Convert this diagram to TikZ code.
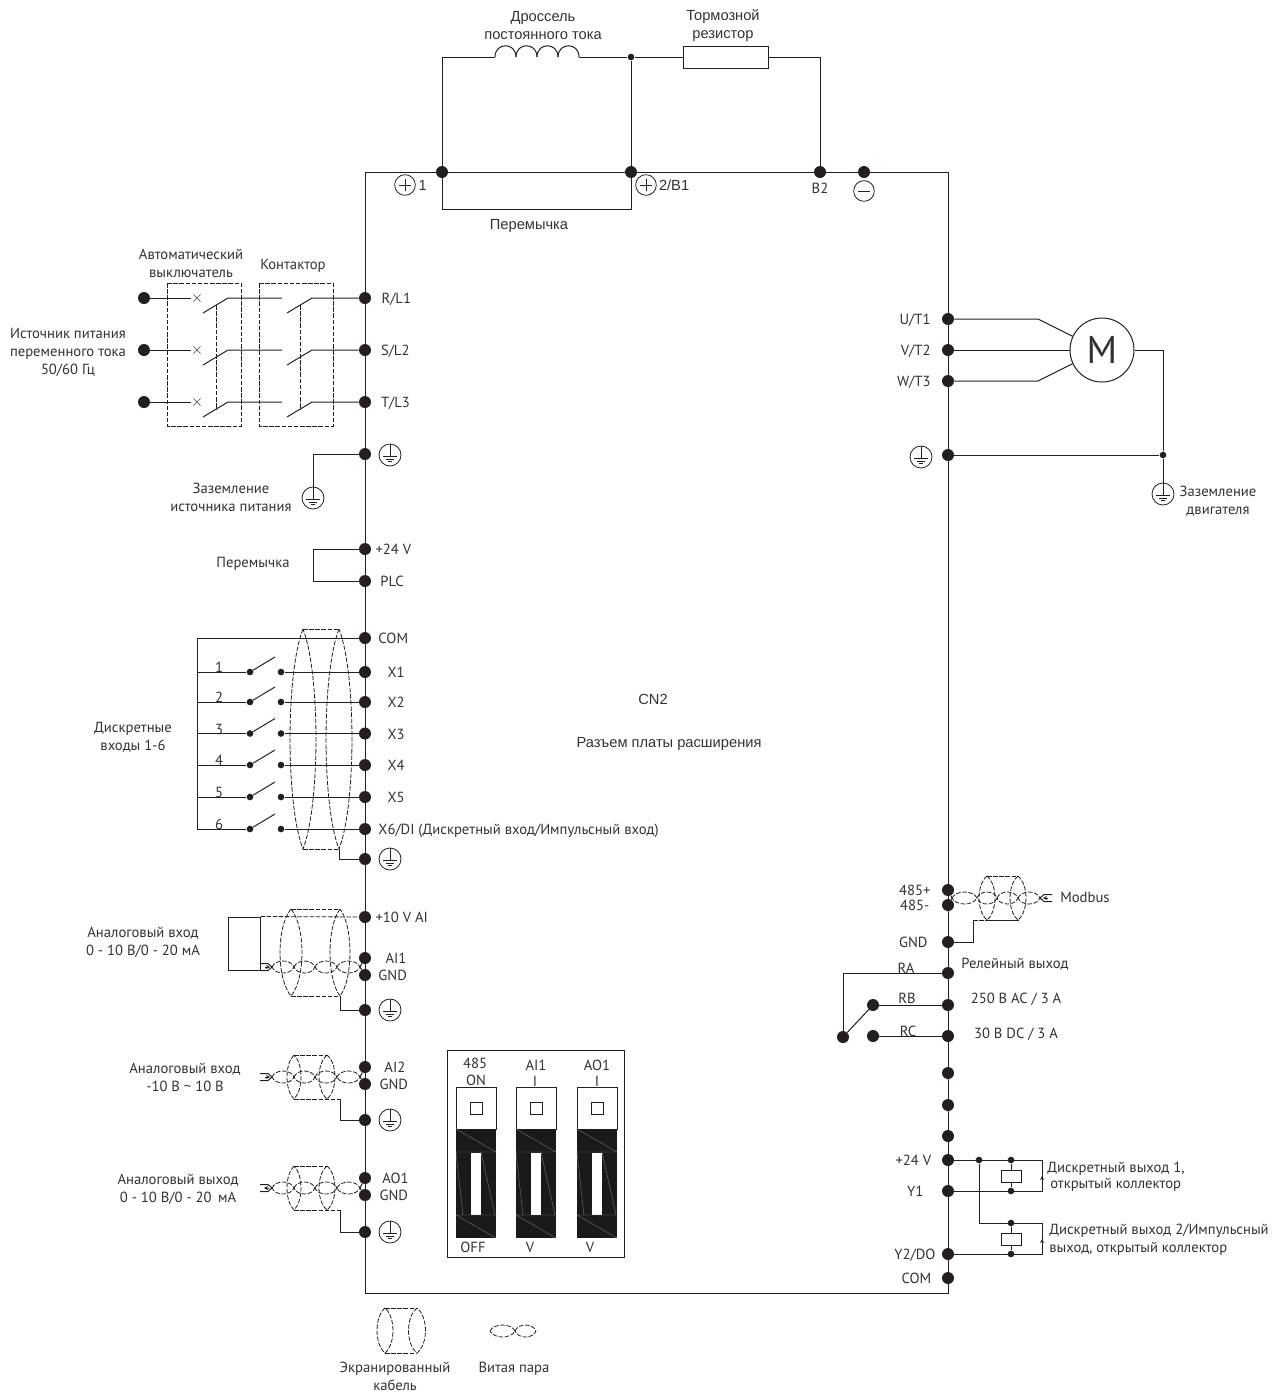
\documentclass[tikz,border=0pt]{standalone}
\usepackage{fontspec}
\setmainfont{PT Sans}
\newfontfamily\arialfont{Liberation Sans}
\usepackage{xcolor}
\usetikzlibrary{positioning,arrows.meta,calc}
\definecolor{inkcolor}{RGB}{35,31,32}
\definecolor{textcolor}{RGB}{50,50,50}

% screened cable: x left, x right, half width left, half width right, top, bottom
\newcommand{\shieldcable}[6]{%
  \foreach \cx/\cr in {#1/#3,#2/#4}
    \draw[shield] (\cx,#5) .. controls ({\cx-1.33*\cr},{#5+0.2*(#6-#5)}) and ({\cx-1.33*\cr},{#6-0.2*(#6-#5)}) .. (\cx,#6)
      .. controls ({\cx+1.33*\cr},{#6-0.2*(#6-#5)}) and ({\cx+1.33*\cr},{#5+0.2*(#6-#5)}) .. (\cx,#5);
  \draw[shield] (#1,#5) -- (#2,#5);
  \draw[shield] (#1,#6) -- (#2,#6);
}
% twisted pair: list of crossing pairs, y
\newcommand{\twistpair}[2]{%
  \foreach \ta/\tb in {#1}
    \draw[shield] (\ta,#2) .. controls ({\ta+0.15*(\tb-\ta)},#2-8) and ({\tb-0.15*(\tb-\ta)},#2-8) .. (\tb,#2)
      .. controls ({\tb-0.15*(\tb-\ta)},#2+8) and ({\ta+0.15*(\tb-\ta)},#2+8) .. (\ta,#2);
}
% tail of a pair: crossing x, y, side (-1 left, 1 right), arrow from, arrow to
\newcommand{\pairtail}[5]{%
  \draw[wire] ({#1+#3*12},#2-3.5) -- ({#1+#3*4},#2-3.5) -- (#1,#2) -- ({#1+#3*4},#2+3.5) -- ({#1+#3*12},#2+3.5);
  \draw[wiretip] ({#1+#3*#4},#2) -- ({#1+#3*#5},#2);
}

\begin{document}
\begin{tikzpicture}[
  x=0.75pt, y=-0.75pt,
  font=\fontsize{11}{13.5}\selectfont,
  every node/.style={text=textcolor},
  wire/.style={draw=inkcolor, line width=0.75pt},
  shield/.style={draw=inkcolor, line width=0.6pt, dash pattern=on 3.4pt off 1.2pt},
  wiretip/.style={draw=inkcolor, line width=0.5pt, -{Stealth[length=3pt,width=3pt]}},
  term/.style={circle, fill=inkcolor, inner sep=0pt, minimum size=9pt},
  joint/.style={circle, fill=inkcolor, inner sep=0pt, minimum size=5pt},
  lbl/.style={inner sep=0pt, text height=8.7pt, text depth=0pt},
  captxt/.style={inner sep=0pt, align=center},
  captxtsf/.style={inner sep=0pt, align=center, font=\arialfont\fontsize{11}{13.5}\selectfont},
  comp/.style={rectangle, draw=inkcolor, line width=0.75pt, inner sep=0pt},
  dashbox/.style={draw=inkcolor, line width=0.6pt, dash pattern=on 3.4pt off 1.2pt},
  earthsym/.style={circle, draw=inkcolor, line width=0.6pt, inner sep=0pt, minimum size=16.5pt,
    path picture={
      \draw[inkcolor, line width=0.6pt] (path picture bounding box.north) -- ([yshift=-1.2pt]path picture bounding box.center);
      \draw[inkcolor, line width=0.6pt] ([xshift=-4.9pt,yshift=-1.2pt]path picture bounding box.center) -- ([xshift=4.9pt,yshift=-1.2pt]path picture bounding box.center);
      \draw[inkcolor, line width=0.6pt] ([xshift=-3pt,yshift=-3pt]path picture bounding box.center) -- ([xshift=3pt,yshift=-3pt]path picture bounding box.center);
      \draw[inkcolor, line width=0.6pt] ([xshift=-1.2pt,yshift=-4.6pt]path picture bounding box.center) -- ([xshift=1.2pt,yshift=-4.6pt]path picture bounding box.center);
    }},
  minussym/.style={circle, draw=inkcolor, line width=0.6pt, inner sep=0pt, minimum size=15.5pt,
    path picture={
      \draw[inkcolor, line width=0.6pt] ([xshift=-4.5pt]path picture bounding box.center) -- ([xshift=4.5pt]path picture bounding box.center);
    }},
  plussym/.style={circle, draw=inkcolor, line width=0.6pt, inner sep=0pt, minimum size=15.5pt,
    path picture={
      \draw[inkcolor, line width=0.6pt] ([xshift=-4.5pt]path picture bounding box.center) -- ([xshift=4.5pt]path picture bounding box.center);
      \draw[inkcolor, line width=0.6pt] ([yshift=-4.5pt]path picture bounding box.center) -- ([yshift=4.5pt]path picture bounding box.center);
    }}
]
  \useasboundingbox (0,0) rectangle (1285,1397);

  % Frame
  \coordinate (frameTL) at (365,172);
  \coordinate (frameTR) at (948,172);
  \coordinate (frameBL) at (365,1293);
  \coordinate (frameBR) at (948,1293);
  \draw[wire] (frameTL) -- (frameTR) -- (frameBR) -- (frameBL) -- cycle;

  % Terminals
  \foreach \nm/\yy in {rl/298,sl/350,tl/402,peA/454,ptf/549,plc/581,comL/638,x1/672,x2/702,x3/733.5,x4/765,x5/797,x6/829,peB/859,ten/917,aia/958,gnda/975,peC/1010,aib/1067,gndb/1084,peD/1120,aoa/1178,gndc/1195,peE/1232}
    \node[term] (\nm) at (365,\yy) {};
  \foreach \nm/\yy in {ut/319,vt/350,wt/381,peR/455,rsp/890,rsm/905,gndr/942,ra/973,rb/1005,rc/1036,spA/1073,spB/1105,spC/1136,ptfR/1160,yo/1191,yt/1254,comR/1278}
    \node[term] (\nm) at (948,\yy) {};
  \foreach \nm/\xx in {pA/442,pB/631,pC/820,pD/864}
    \node[term] (\nm) at (\xx,172) {};

  % Terminal labels
  \foreach \nm/\gap/\txt in {rl/7.5/{R/L1},sl/7.1/{S/L2},tl/7.1/{T/L3},ptf/3/{+24 V},plc/6.7/PLC,comL/5.2/COM,x1/12/X1,x2/12/X2,x3/12/X3,x4/12/X4,x5/12/X5,x6/5.2/{X6/DI (Дискретный вход/Импульсный вход)},ten/3/{+10 V AI},aia/10.5/AI1,gnda/5.2/GND,aib/9.7/AI2,gndb/6/GND,aoa/8.2/AO1,gndc/6/GND}
    \node[lbl, right=\gap pt of \nm] (lbl\nm) {\txt};
  \foreach \nm/\gap/\txt in {ut/8.2/{U/T1},vt/8.2/{V/T2},wt/8.2/{W/T3},rsp/8.2/485+,rsm/9/485-,gndr/10.5/GND,ptfR/7.7/{+24 V},yo/13.6/Y1,yt/4.5/{Y2/DO},comR/7.7/COM}
    \node[lbl, left=\gap pt of \nm] (lbl\nm) {\txt};

  % Earth symbols
  \foreach \nm/\xx/\yy in {esA/390/455,esB/390/859,esC/390/1010,esD/390/1120,esE/390/1232,esR/921/457,esS/313/498,esM/1163/494}
    \node[earthsym] (\nm) at (\xx,\yy) {};

  % DC link
  \node[plussym] (plusA) at (405,185) {};
  \node[plussym] (plusB) at (646,185) {};
  \node[minussym] (minusC) at (864,191) {};
  \node[captxtsf, right=2pt of plusA] (lblpA) {1};
  \node[captxtsf, right=1.5pt of plusB] (lblpB) {2/B1};
  \node[lbl] (lblpC) at (820,188) {B2};
  \node[joint] (jct) at (631,57) {};
  \coordinate (chokeL) at (495,57);
  \coordinate (chokeR) at (579,57);
  \coordinate (jumpR) at (631,209);
  \node[comp, minimum width=63.75pt, minimum height=16.5pt] (brake) at (725.5,57) {};
  \draw[wire] (pA) |- (chokeL);
  \foreach \i in {0,...,3}
    \draw[wire] ({495+\i*21},57) .. controls +(0,-15) and +(0,-15) .. ++(21,0);
  \draw[wire] (chokeR) -- (jct);
  \draw[wire] (jct) -- (brake);
  \draw[wire] (jct) -- (pB);
  \draw[wire] (brake) -| (pC);
  \draw[wire] (pA) |- (jumpR) -- (pB);
  \node[captxtsf] (capchoke) at (543,25.5) {Дроссель\\постоянного тока};
  \node[captxtsf] (capbrake) at (723,25.5) {Тормозной\\резистор};
  \node[captxtsf] (capjump) at (529,226) {Перемычка};

  % Supply, breaker and contactor
  \node[captxt] (capsrc) at (68,352) {Источник питания\\переменного тока\\50/60 Гц};
  \node[captxt] (capbrk) at (191,263) {Автоматический\\выключатель};
  \node[captxt] (capcon) at (293,266) {Контактор};
  \draw[dashbox] (167,283) rectangle (241,426);
  \draw[dashbox] (259,283) rectangle (333,426);
  \foreach \i/\nm/\yy in {1/rl/298,2/sl/350,3/tl/402} {
    \node[term] (src\i) at (144,\yy) {};
    \node[inner sep=0pt, font=\fontsize{13}{13}\selectfont] (trip\i) at (197,\yy) {$\times$};
    \coordinate (brkA\i) at (203,\yy+15);
    \coordinate (brkB\i) at (228,\yy);
    \coordinate (conA\i) at (287,\yy+15);
    \coordinate (conB\i) at (312,\yy);
    \coordinate (conI\i) at (282,\yy);
    \draw[wire] (src\i) -- (trip\i);
    \draw[wire] (brkA\i) -- (brkB\i) -- (conI\i);
    \draw[wire] (conA\i) -- (conB\i) -- (\nm);
  }
  \draw[dashbox] (216,305) -- (216,410);
  \draw[dashbox] (300,305) -- (300,410);

  % Power earth
  \node[captxt] (capeart) at (231,497.5) {Заземление\\источника питания};
  \draw[wire] (peA) -| (esS);

  % Jumper
  \node[captxt] (capjmp) at (253,563.5) {Перемычка};
  \coordinate (jmpT) at (313,549);
  \coordinate (jmpB) at (313,581);
  \draw[wire] (ptf) -- (jmpT) -- (jmpB) -- (plc);

  % Digital inputs
  \coordinate (busT) at (197,638);
  \coordinate (busB) at (197,829);
  \draw[wire] (comL) -- (busT) -- (busB);
  \foreach \i/\yy in {1/672,2/702,3/733.5,4/765,5/797,6/829} {
    \node[joint] (swl\i) at (250,\yy) {};
    \node[joint] (swr\i) at (281,\yy) {};
    \node[lbl] (num\i) at (219,\yy-5) {\i};
    \draw[wire] (swl\i -| busT) -- (swl\i);
    \draw[wire] (swl\i) -- ++(25,-15);
    \draw[wire] (swr\i) -- (x\i);
  }
  \node[captxt] (capdin) at (133,737) {Дискретные\\входы 1-6};
  \shieldcable{303}{339}{13}{13}{629}{849}
  \coordinate (shB) at (339,849);
  \draw[wire] (shB) |- (peB);

  % Analog input 1
  \node[captxt] (capaia) at (143,942.5) {Аналоговый вход\\0 - 10 В/0 - 20 мА};
  \node[comp, minimum width=24pt, minimum height=39.75pt] (potbox) at (244,943.5) {};
  \shieldcable{291}{340}{11}{10}{909}{996}
  \twistpair{272/294,294/315,315/337,337/360}{967}
  \pairtail{272}{967}{-1}{7}{2}
  \coordinate (twA) at (360,967);
  \draw[wire] (twA) -- (aia);
  \draw[wire] (twA) -- (gnda);
  \draw[shield] (potbox.north east) -- (ten);
  \coordinate (shC) at (340,996);
  \draw[wire] (shC) |- (peC);

  % Analog input 2
  \node[captxt] (capaib) at (185,1077.5) {Аналоговый вход\\-10 В \textasciitilde{} 10 В};
  \shieldcable{294}{327}{7}{8}{1055}{1099}
  \twistpair{272/294,294/315,315/337,337/360}{1077}
  \pairtail{272}{1077}{-1}{7}{2}
  \coordinate (twB) at (360,1077);
  \draw[wire] (twB) -- (aib);
  \draw[wire] (twB) -- (gndb);
  \coordinate (shD) at (340,1099);
  \draw[shield] (294,1099) -- (shD);
  \draw[wire] (shD) |- (peD);

  % Analog output
  \node[captxt] (capaoa) at (178,1189.5) {Аналоговый выход\\0 - 10 В/0 - 20\, мА};
  \shieldcable{294}{327}{7}{8}{1166}{1210}
  \twistpair{272/294,294/315,315/337,337/360}{1188}
  \pairtail{272}{1188}{-1}{3}{8}
  \coordinate (twC) at (360,1188);
  \draw[wire] (twC) -- (aoa);
  \draw[wire] (twC) -- (gndc);
  \coordinate (shE) at (340,1210);
  \draw[shield] (294,1210) -- (shE);
  \draw[wire] (shE) |- (peE);

  % DIP switches
  \draw[wire] (447,1050) rectangle (624,1257);
  \foreach \xx in {456,516,577} {
    \draw[wire] (\xx,1087) rectangle (\xx+40,1129);
    \fill[inkcolor!80!black] (\xx,1129) rectangle (\xx+40,1238);
    \fill[white] (\xx+15,1153) rectangle (\xx+25,1215);
    \draw[inkcolor, line width=0.6pt] (\xx+14,1102) rectangle (\xx+26,1114);
    \draw[gray, line width=0.25pt] (\xx,1129) -- (\xx+40,1152) (\xx,1152) -- (\xx+41,1152) (\xx,1215) -- (\xx+41,1215) (\xx,1215) -- (\xx+40,1238)
      (\xx,1153) -- (\xx+7,1215) (\xx+25,1152) -- (\xx+39,1215);
  }
  \foreach \nm/\xx/\yy/\txt in {dsA/475/1063/485,dsB/476/1080/ON,dsC/536/1065/AI1,dsD/535/1081/I,dsE/597/1065/AO1,dsF/597/1081/I,dsG/473/1247/OFF,dsH/530/1247/V,dsI/590/1247/V}
    \node[lbl] (\nm) at (\xx,\yy) {\txt};

  % Motor
  \node[circle, draw=inkcolor, line width=0.75pt, inner sep=0pt, minimum size=48pt, font=\fontsize{29}{29}\selectfont] (motor) at (1102,350) {M};
  \draw[wire] (ut) -- (1038,319) -- (motor.155);
  \draw[wire] (vt) -- (motor);
  \draw[wire] (wt) -- (1038,381) -- (motor.205);
  \node[joint] (jctE) at (1163,455) {};
  \draw[wire] (motor.east) -| (jctE);
  \draw[wire] (peR) -- (jctE);
  \draw[wire] (jctE) -- (esM);
  \node[captxt] (capmot) at (1218,501.5) {Заземление\\двигателя};

  % Centre texts
  \node[captxtsf] (capcn) at (653,699) {CN2};
  \node[captxtsf] (capexp) at (669,744) {Разъем платы расширения};

  % Modbus
  \shieldcable{987}{1018}{8}{8}{876}{920}
  \twistpair{952/977,977/997,997/1018,1018/1040}{898}
  \pairtail{1040}{898}{1}{8}{3}
  \coordinate (twD) at (952,898);
  \draw[wire] (rsp) -- (twD);
  \draw[wire] (rsm) -- (twD);
  \coordinate (shF) at (973,920);
  \draw[shield] (shF) -- (1018,920);
  \draw[wire] (shF) |- (gndr);
  \node[lbl, anchor=west] (capmod) at (1060,897) {Modbus};

  % Relay
  \node[term] (swa) at (843,1037) {};
  \node[term] (swb) at (873,1005) {};
  \node[term] (swc) at (873,1036) {};
  \coordinate (raC) at (843,973);
  \draw[wire] (ra) -- (raC) -- (swa);
  \draw[wire] (swa) -- (swb);
  \draw[wire] (swb) -- (rb);
  \draw[wire] (swc) -- (rc);
  \foreach \nm/\xx/\yy/\txt in {lblra/906/968/RA,lblrb/907/998/RB,lblrc/908/1031/RC,capra/1015/963/{Релейный выход},caprb/1016/998/{250 В AC / 3 А},caprc/1016/1033/{30 В DC / 3 А}}
    \node[lbl] (\nm) at (\xx,\yy) {\txt};

  % Open collector outputs
  \node[joint] (jA) at (979,1160) {};
  \node[joint] (jB) at (1011,1160) {};
  \node[joint] (jC) at (1011,1191) {};
  \node[joint] (jD) at (1011,1223) {};
  \node[joint] (jE) at (1011,1254) {};
  \node[comp, line width=0.6pt, minimum width=15pt, minimum height=9pt] (coilA) at (1011,1176) {};
  \node[comp, line width=0.6pt, minimum width=15pt, minimum height=9.5pt] (coilB) at (1011,1239.5) {};
  \coordinate (rtA) at (1042,1160);
  \coordinate (rtB) at (1042,1191);
  \coordinate (rtC) at (1042,1223);
  \coordinate (rtD) at (1042,1254);
  \draw[wire] (ptfR) -- (rtA) -- (rtB) -- (yo);
  \draw[wire] (jA) |- (rtC) -- (rtD) -- (yt);
  \draw[wire] (jB) -- (coilA);
  \draw[wire] (coilA) -- (jC);
  \draw[wire] (jD) -- (coilB);
  \draw[wire] (coilB) -- (jE);
  \draw[wiretip] (1042,1182) -- (1042,1176);
  \draw[wiretip] (1042,1245) -- (1042,1239);
  \node[lbl, anchor=west] (capya) at (1047,1167) {Дискретный выход 1,};
  \node[lbl, anchor=west] (capyb) at (1050,1183) {открытый коллектор};
  \node[lbl, anchor=west] (capyc) at (1049,1229) {Дискретный выход 2/Импульсный};
  \node[lbl, anchor=west] (capyd) at (1049,1247) {выход, открытый коллектор};

  % Legend
  \shieldcable{385}{417}{8}{8.5}{1308}{1353}
  \twistpair{490/515,515/536}{1331}
  \node[captxt] (capleg) at (395,1376.5) {Экранированный\\кабель};
  \node[captxt] (captw) at (514,1369) {Витая пара};
\end{tikzpicture}
\end{document}
